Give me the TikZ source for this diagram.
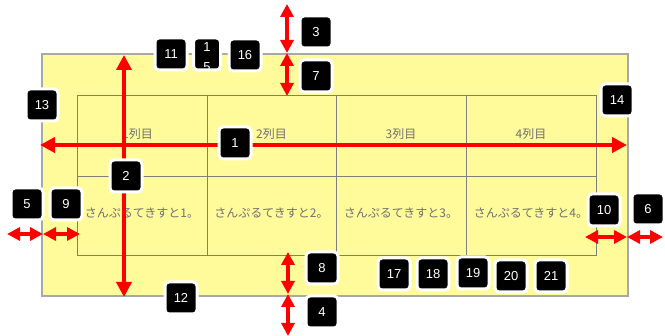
\documentclass[tikz,border=0pt]{standalone}
\usepackage{fontspec}
\setmainfont{Liberation Sans}
\newfontfamily\jp{Noto Sans CJK JP}
\usetikzlibrary{arrows.meta}
\definecolor{padyellow}{HTML}{FFFB9B}
\definecolor{padborder}{HTML}{A8A8A8}
\definecolor{gridgray}{HTML}{7F7F7F}
\definecolor{txtgray}{HTML}{707070}
\definecolor{dimred}{HTML}{FF0000}
\begin{document}
\begin{tikzpicture}[x=1pt,y=-1pt,
  badge/.style={rectangle, rounded corners=4pt, fill=black, draw=white, line width=3pt,
    minimum width=32pt, minimum height=32pt, inner sep=0pt, text=white,
    font=\fontsize{13}{13}\selectfont},
  badgetext/.style={text=white, inner sep=0pt, font=\fontsize{13}{13}\selectfont},
  dimarrow/.style={draw=dimred, line width=4.5pt,
    {Triangle[length=15pt,width=15pt]}-{Triangle[length=15pt,width=15pt]}},
  smallarrow/.style={draw=dimred, line width=4pt,
    {Triangle[length=13pt,width=13pt]}-{Triangle[length=13pt,width=13pt]}},
  cell/.style={font=\jp\fontsize{12}{12}\selectfont, text=txtgray, inner sep=0pt}]
\useasboundingbox (0,0) rectangle (665,336);
% pad
\draw[fill=padyellow, draw=padborder, line width=1.2pt] (42,54) rectangle (628,296);
% table
\draw[gridgray, line width=0.9pt] (77,95) rectangle (596,255);
\draw[gridgray, line width=0.9pt] (77,176) -- (596,176);
\foreach \x in {207,336,466} \draw[gridgray, line width=0.9pt] (\x,95) -- (\x,255);
% cell texts
\node[cell] (h1) at (137.5,134) {1列目};
\node[cell] (h2) at (271.5,134) {2列目};
\node[cell] (h3) at (401,134) {3列目};
\node[cell] (h4) at (531,134) {4列目};
\node[cell] (c1) at (142,213) {さんぷるてきすと1。};
\node[cell] (c2) at (271.5,213) {さんぷるてきすと2。};
\node[cell] (c3) at (401,213) {さんぷるてきすと3。};
\node[cell] (c4) at (531,213) {さんぷるてきすと4。};
% arrow end points
\coordinate (hl) at (40,145);  \coordinate (hr) at (627,145);
\coordinate (vt) at (124,55);  \coordinate (vb) at (124,297);
\coordinate (a3t) at (287,4);  \coordinate (a3b) at (287,53);
\coordinate (a7b) at (287,96);
\coordinate (a8t) at (288,252); \coordinate (a8b) at (288,294);
\coordinate (a4b) at (288,336);
\coordinate (a5l) at (7,234);  \coordinate (a5r) at (43,234);
\coordinate (a9r) at (80,234);
\coordinate (a10l) at (585,237); \coordinate (a10r) at (627,237);
\coordinate (a6r) at (663,237);
% arrows
\draw[dimarrow] (hl) -- (hr);
\draw[dimarrow] (vt) -- (vb);
\draw[smallarrow] (a3t) -- (a3b);
\draw[smallarrow] (a3b) -- (a7b);
\draw[smallarrow] (a8t) -- (a8b);
\draw[smallarrow] (a8b) -- (a4b);
\draw[smallarrow] (a5l) -- (a5r);
\draw[smallarrow] (a5r) -- (a9r);
\draw[smallarrow] (a10l) -- (a10r);
\draw[smallarrow] (a10r) -- (a6r);
% badges
\node[badge] (b11) at (171,54) {11};
\node[badge, minimum width=27pt] (b15) at (207,54) {};
\node[badgetext] (b15a) at (207,47) {1};
\begin{scope}
  \clip ([shift={(2,2)}]b15.north west) rectangle ([shift={(-2,-2)}]b15.south east);
  \node[badgetext] (b15b) at (207,67) {5};
\end{scope}
\node[badge] (b16) at (245,55) {16};
\node[badge] (b3) at (316,32) {3};
\node[badge] (b7) at (316,76) {7};
\node[badge] (b13) at (42,105) {13};
\node[badge] (b1) at (235,143) {1};
\node[badge] (b2) at (126,176) {2};
\node[badge] (b14) at (617,100) {14};
\node[badge] (b5) at (27,204) {5};
\node[badge] (b9) at (66,204) {9};
\node[badge] (b10) at (604,210) {10};
\node[badge] (b6) at (648,209) {6};
\node[badge] (b8) at (322,268) {8};
\node[badge] (b4) at (322,312) {4};
\node[badge] (b12) at (181,298) {12};
\node[badge] (b17) at (394,274) {17};
\node[badge] (b18) at (433,274) {18};
\node[badge] (b19) at (473,273) {19};
\node[badge] (b20) at (511,276) {20};
\node[badge] (b21) at (551,276) {21};
\end{tikzpicture}
\end{document}
